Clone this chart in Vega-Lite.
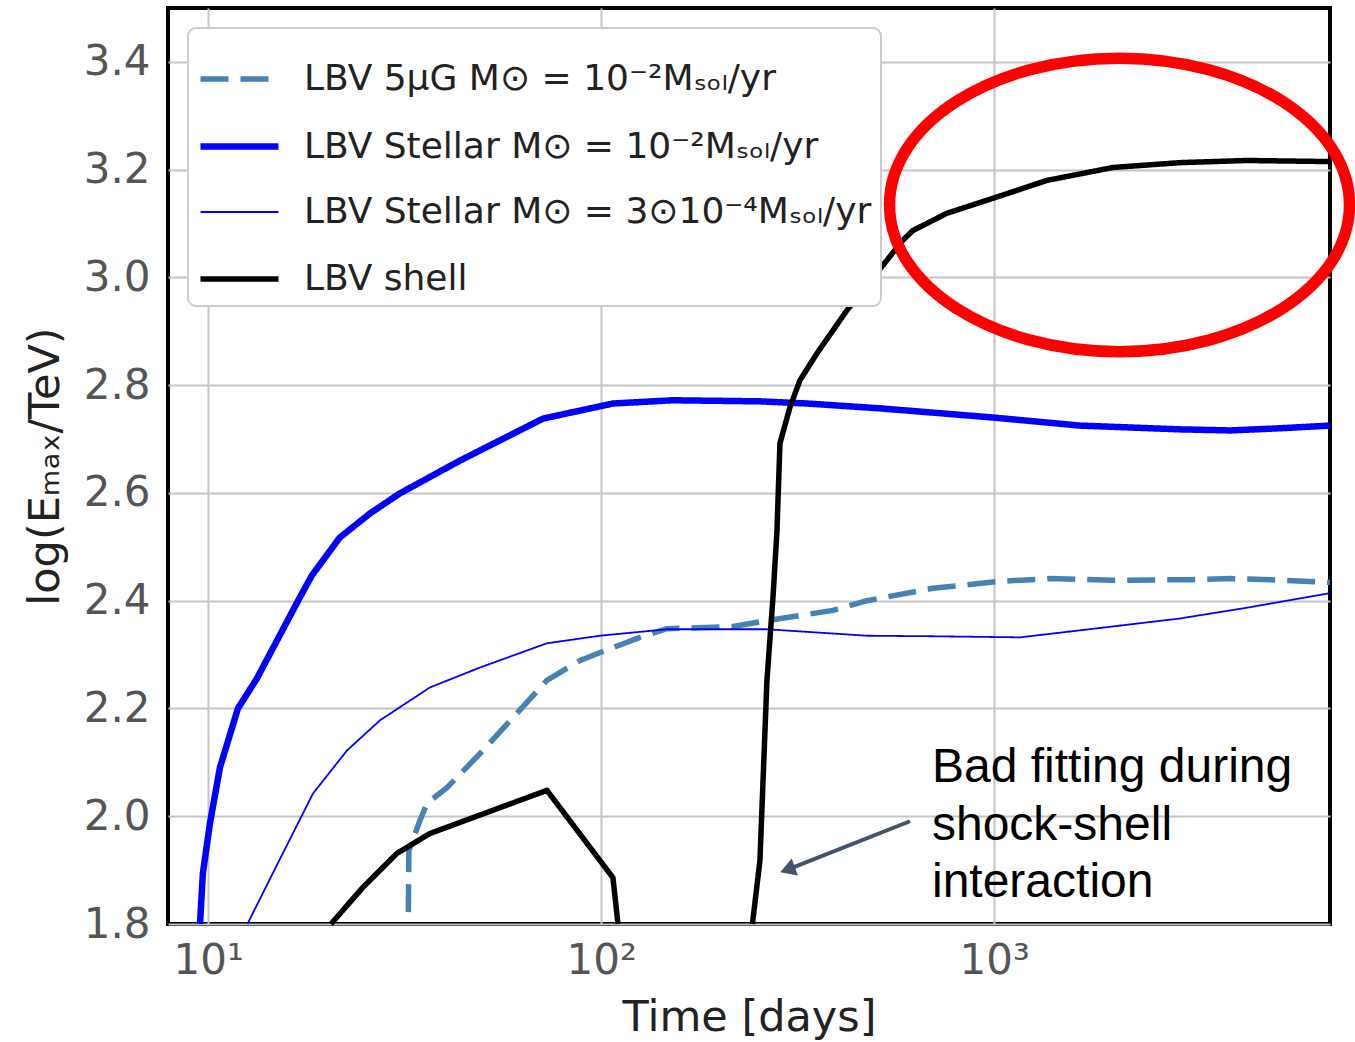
{
  "$schema": "https://vega.github.io/schema/vega-lite/v6.json",
  "width": 1162,
  "height": 916,
  "autosize": {"type": "none"},
  "padding": {"left": 168, "top": 8, "right": 25, "bottom": 118},
  "background": "#ffffff",
  "encoding": {
    "x": {
      "field": "t", "type": "quantitative",
      "scale": {"type": "log", "domain": [7.9, 7150], "nice": false},
      "axis": {
        "title": "Time [days]",
        "values": [10, 100, 1000],
        "labelExpr": "datum.value == 10 ? '10¹' : datum.value == 100 ? '10²' : '10³'",
        "labelPadding": 16,
        "titlePadding": 15
      }
    },
    "y": {
      "field": "v", "type": "quantitative",
      "scale": {"domain": [1.8, 3.5], "nice": false, "zero": false},
      "axis": {
        "title": "log(Eₘₐₓ/TeV)",
        "values": [1.8, 2.0, 2.2, 2.4, 2.6, 2.8, 3.0, 3.2, 3.4],
        "format": ".1f",
        "labelPadding": 18,
        "titlePadding": 16
      }
    }
  },
  "layer": [
    {
      "data": {"values": [
        {"t": 32.3, "v": 1.822, "series": "LBV 5μG M⊙ = 10⁻²Mₛₒₗ/yr", "seg": "a"},
        {"t": 32.4, "v": 1.936, "series": "LBV 5μG M⊙ = 10⁻²Mₛₒₗ/yr", "seg": "a"},
        {"t": 34.57, "v": 1.992, "series": "LBV 5μG M⊙ = 10⁻²Mₛₒₗ/yr", "seg": "a"},
        {"t": 36.02, "v": 2.024, "series": "LBV 5μG M⊙ = 10⁻²Mₛₒₗ/yr", "seg": "a"},
        {"t": 40.5, "v": 2.053, "series": "LBV 5μG M⊙ = 10⁻²Mₛₒₗ/yr", "seg": "a"},
        {"t": 49.1, "v": 2.116, "series": "LBV 5μG M⊙ = 10⁻²Mₛₒₗ/yr", "seg": "a"},
        {"t": 59.6, "v": 2.183, "series": "LBV 5μG M⊙ = 10⁻²Mₛₒₗ/yr", "seg": "a"},
        {"t": 72.7, "v": 2.252, "series": "LBV 5μG M⊙ = 10⁻²Mₛₒₗ/yr", "seg": "a"},
        {"t": 88.3, "v": 2.289, "series": "LBV 5μG M⊙ = 10⁻²Mₛₒₗ/yr", "seg": "a"},
        {"t": 107.1, "v": 2.313, "series": "LBV 5μG M⊙ = 10⁻²Mₛₒₗ/yr", "seg": "a"},
        {"t": 125.5, "v": 2.332, "series": "LBV 5μG M⊙ = 10⁻²Mₛₒₗ/yr", "seg": "a"},
        {"t": 146.9, "v": 2.348, "series": "LBV 5μG M⊙ = 10⁻²Mₛₒₗ/yr", "seg": "a"},
        {"t": 216.3, "v": 2.352, "series": "LBV 5μG M⊙ = 10⁻²Mₛₒₗ/yr", "seg": "a"},
        {"t": 264, "v": 2.363, "series": "LBV 5μG M⊙ = 10⁻²Mₛₒₗ/yr", "seg": "a"},
        {"t": 388.7, "v": 2.382, "series": "LBV 5μG M⊙ = 10⁻²Mₛₒₗ/yr", "seg": "a"},
        {"t": 474.5, "v": 2.4, "series": "LBV 5μG M⊙ = 10⁻²Mₛₒₗ/yr", "seg": "a"},
        {"t": 698, "v": 2.423, "series": "LBV 5μG M⊙ = 10⁻²Mₛₒₗ/yr", "seg": "a"},
        {"t": 1034, "v": 2.436, "series": "LBV 5μG M⊙ = 10⁻²Mₛₒₗ/yr", "seg": "a"},
        {"t": 1386, "v": 2.441, "series": "LBV 5μG M⊙ = 10⁻²Mₛₒₗ/yr", "seg": "a"},
        {"t": 2004, "v": 2.438, "series": "LBV 5μG M⊙ = 10⁻²Mₛₒₗ/yr", "seg": "a"},
        {"t": 3148, "v": 2.439, "series": "LBV 5μG M⊙ = 10⁻²Mₛₒₗ/yr", "seg": "a"},
        {"t": 3979, "v": 2.441, "series": "LBV 5μG M⊙ = 10⁻²Mₛₒₗ/yr", "seg": "a"},
        {"t": 5029, "v": 2.439, "series": "LBV 5μG M⊙ = 10⁻²Mₛₒₗ/yr", "seg": "a"},
        {"t": 7145, "v": 2.434, "series": "LBV 5μG M⊙ = 10⁻²Mₛₒₗ/yr", "seg": "a"},

        {"t": 9.53, "v": 1.8, "series": "LBV Stellar M⊙ = 10⁻²Mₛₒₗ/yr", "seg": "a"},
        {"t": 9.69, "v": 1.894, "series": "LBV Stellar M⊙ = 10⁻²Mₛₒₗ/yr", "seg": "a"},
        {"t": 10.1, "v": 1.9865, "series": "LBV Stellar M⊙ = 10⁻²Mₛₒₗ/yr", "seg": "a"},
        {"t": 10.71, "v": 2.0905, "series": "LBV Stellar M⊙ = 10⁻²Mₛₒₗ/yr", "seg": "a"},
        {"t": 11.9, "v": 2.2, "series": "LBV Stellar M⊙ = 10⁻²Mₛₒₗ/yr", "seg": "a"},
        {"t": 13.3, "v": 2.2557, "series": "LBV Stellar M⊙ = 10⁻²Mₛₒₗ/yr", "seg": "a"},
        {"t": 17.1, "v": 2.406, "series": "LBV Stellar M⊙ = 10⁻²Mₛₒₗ/yr", "seg": "a"},
        {"t": 18.36, "v": 2.447, "series": "LBV Stellar M⊙ = 10⁻²Mₛₒₗ/yr", "seg": "a"},
        {"t": 21.6, "v": 2.517, "series": "LBV Stellar M⊙ = 10⁻²Mₛₒₗ/yr", "seg": "a"},
        {"t": 25.8, "v": 2.562, "series": "LBV Stellar M⊙ = 10⁻²Mₛₒₗ/yr", "seg": "a"},
        {"t": 30.7, "v": 2.599, "series": "LBV Stellar M⊙ = 10⁻²Mₛₒₗ/yr", "seg": "a"},
        {"t": 43.7, "v": 2.66, "series": "LBV Stellar M⊙ = 10⁻²Mₛₒₗ/yr", "seg": "a"},
        {"t": 71.1, "v": 2.738, "series": "LBV Stellar M⊙ = 10⁻²Mₛₒₗ/yr", "seg": "a"},
        {"t": 107.1, "v": 2.766, "series": "LBV Stellar M⊙ = 10⁻²Mₛₒₗ/yr", "seg": "a"},
        {"t": 152.2, "v": 2.772, "series": "LBV Stellar M⊙ = 10⁻²Mₛₒₗ/yr", "seg": "a"},
        {"t": 253.4, "v": 2.77, "series": "LBV Stellar M⊙ = 10⁻²Mₛₒₗ/yr", "seg": "a"},
        {"t": 333.8, "v": 2.766, "series": "LBV Stellar M⊙ = 10⁻²Mₛₒₗ/yr", "seg": "a"},
        {"t": 511.7, "v": 2.757, "series": "LBV Stellar M⊙ = 10⁻²Mₛₒₗ/yr", "seg": "a"},
        {"t": 992, "v": 2.74, "series": "LBV Stellar M⊙ = 10⁻²Mₛₒₗ/yr", "seg": "a"},
        {"t": 1653, "v": 2.725, "series": "LBV Stellar M⊙ = 10⁻²Mₛₒₗ/yr", "seg": "a"},
        {"t": 2969, "v": 2.718, "series": "LBV Stellar M⊙ = 10⁻²Mₛₒₗ/yr", "seg": "a"},
        {"t": 3979, "v": 2.716, "series": "LBV Stellar M⊙ = 10⁻²Mₛₒₗ/yr", "seg": "a"},
        {"t": 5333, "v": 2.72, "series": "LBV Stellar M⊙ = 10⁻²Mₛₒₗ/yr", "seg": "a"},
        {"t": 7145, "v": 2.725, "series": "LBV Stellar M⊙ = 10⁻²Mₛₒₗ/yr", "seg": "a"},

        {"t": 12.58, "v": 1.8, "series": "LBV Stellar M⊙ = 3⊙10⁻⁴Mₛₒₗ/yr", "seg": "a"},
        {"t": 15.16, "v": 1.918, "series": "LBV Stellar M⊙ = 3⊙10⁻⁴Mₛₒₗ/yr", "seg": "a"},
        {"t": 18.47, "v": 2.042, "series": "LBV Stellar M⊙ = 3⊙10⁻⁴Mₛₒₗ/yr", "seg": "a"},
        {"t": 22.54, "v": 2.122, "series": "LBV Stellar M⊙ = 3⊙10⁻⁴Mₛₒₗ/yr", "seg": "a"},
        {"t": 27.35, "v": 2.178, "series": "LBV Stellar M⊙ = 3⊙10⁻⁴Mₛₒₗ/yr", "seg": "a"},
        {"t": 36.65, "v": 2.239, "series": "LBV Stellar M⊙ = 3⊙10⁻⁴Mₛₒₗ/yr", "seg": "a"},
        {"t": 49.13, "v": 2.276, "series": "LBV Stellar M⊙ = 3⊙10⁻⁴Mₛₒₗ/yr", "seg": "a"},
        {"t": 72.75, "v": 2.321, "series": "LBV Stellar M⊙ = 3⊙10⁻⁴Mₛₒₗ/yr", "seg": "a"},
        {"t": 99.2, "v": 2.335, "series": "LBV Stellar M⊙ = 3⊙10⁻⁴Mₛₒₗ/yr", "seg": "a"},
        {"t": 146.9, "v": 2.347, "series": "LBV Stellar M⊙ = 3⊙10⁻⁴Mₛₒₗ/yr", "seg": "a"},
        {"t": 264, "v": 2.347, "series": "LBV Stellar M⊙ = 3⊙10⁻⁴Mₛₒₗ/yr", "seg": "a"},
        {"t": 474.5, "v": 2.335, "series": "LBV Stellar M⊙ = 3⊙10⁻⁴Mₛₒₗ/yr", "seg": "a"},
        {"t": 698, "v": 2.334, "series": "LBV Stellar M⊙ = 3⊙10⁻⁴Mₛₒₗ/yr", "seg": "a"},
        {"t": 1163, "v": 2.332, "series": "LBV Stellar M⊙ = 3⊙10⁻⁴Mₛₒₗ/yr", "seg": "a"},
        {"t": 1653, "v": 2.345, "series": "LBV Stellar M⊙ = 3⊙10⁻⁴Mₛₒₗ/yr", "seg": "a"},
        {"t": 2969, "v": 2.367, "series": "LBV Stellar M⊙ = 3⊙10⁻⁴Mₛₒₗ/yr", "seg": "a"},
        {"t": 4395, "v": 2.387, "series": "LBV Stellar M⊙ = 3⊙10⁻⁴Mₛₒₗ/yr", "seg": "a"},
        {"t": 7145, "v": 2.414, "series": "LBV Stellar M⊙ = 3⊙10⁻⁴Mₛₒₗ/yr", "seg": "a"},

        {"t": 20.52, "v": 1.8, "series": "LBV shell", "seg": "a"},
        {"t": 24.75, "v": 1.868, "series": "LBV shell", "seg": "a"},
        {"t": 30.2, "v": 1.931, "series": "LBV shell", "seg": "a"},
        {"t": 36.65, "v": 1.968, "series": "LBV shell", "seg": "a"},
        {"t": 72.75, "v": 2.048, "series": "LBV shell", "seg": "a"},
        {"t": 107.1, "v": 1.886, "series": "LBV shell", "seg": "a"},
        {"t": 110.3, "v": 1.8, "series": "LBV shell", "seg": "a"},
        {"t": 242.5, "v": 1.8, "series": "LBV shell", "seg": "b"},
        {"t": 253.4, "v": 1.918, "series": "LBV shell", "seg": "b"},
        {"t": 264.0, "v": 2.252, "series": "LBV shell", "seg": "b"},
        {"t": 273.5, "v": 2.406, "series": "LBV shell", "seg": "b"},
        {"t": 280.0, "v": 2.53, "series": "LBV shell", "seg": "b"},
        {"t": 284.9, "v": 2.692, "series": "LBV shell", "seg": "b"},
        {"t": 302.1, "v": 2.759, "series": "LBV shell", "seg": "b"},
        {"t": 320.3, "v": 2.809, "series": "LBV shell", "seg": "b"},
        {"t": 353.9, "v": 2.859, "series": "LBV shell", "seg": "b"},
        {"t": 421.9, "v": 2.939, "series": "LBV shell", "seg": "b"},
        {"t": 585.4, "v": 3.069, "series": "LBV shell", "seg": "b"},
        {"t": 620.8, "v": 3.087, "series": "LBV shell", "seg": "b"},
        {"t": 757.5, "v": 3.119, "series": "LBV shell", "seg": "b"},
        {"t": 1003.5, "v": 3.148, "series": "LBV shell", "seg": "b"},
        {"t": 1361, "v": 3.18, "series": "LBV shell", "seg": "b"},
        {"t": 2003, "v": 3.204, "series": "LBV shell", "seg": "b"},
        {"t": 2967, "v": 3.213, "series": "LBV shell", "seg": "b"},
        {"t": 4394, "v": 3.217, "series": "LBV shell", "seg": "b"},
        {"t": 7145, "v": 3.215, "series": "LBV shell", "seg": "b"}
      ]},
      "mark": {"type": "line", "strokeCap": "butt", "strokeJoin": "round"},
      "encoding": {
        "detail": {"field": "seg", "type": "nominal"},
        "color": {
          "field": "series", "type": "ordinal",
          "scale": {
            "domain": ["LBV 5μG M⊙ = 10⁻²Mₛₒₗ/yr", "LBV Stellar M⊙ = 10⁻²Mₛₒₗ/yr", "LBV Stellar M⊙ = 3⊙10⁻⁴Mₛₒₗ/yr", "LBV shell"],
            "range": ["#4682b4", "#0000ff", "#0000ff", "#000000"]
          },
          "legend": {"title": null}
        },
        "strokeDash": {
          "field": "series", "type": "ordinal",
          "scale": {
            "domain": ["LBV 5μG M⊙ = 10⁻²Mₛₒₗ/yr", "LBV Stellar M⊙ = 10⁻²Mₛₒₗ/yr", "LBV Stellar M⊙ = 3⊙10⁻⁴Mₛₒₗ/yr", "LBV shell"],
            "range": [[28, 12], [1, 0], [1, 0], [1, 0]]
          },
          "legend": {"title": null}
        },
        "strokeWidth": {
          "field": "series", "type": "ordinal",
          "scale": {
            "type": "ordinal",
            "domain": ["LBV 5μG M⊙ = 10⁻²Mₛₒₗ/yr", "LBV Stellar M⊙ = 10⁻²Mₛₒₗ/yr", "LBV Stellar M⊙ = 3⊙10⁻⁴Mₛₒₗ/yr", "LBV shell"],
            "range": [5.5, 6.5, 1.8, 5.5]
          },
          "legend": {"title": null}
        }
      }
    },
    {
      "data": {"values": [{"t": 2083, "v": 3.1346}]},
      "mark": {
        "type": "point",
        "shape": "M-1,0A1,0.638,0,1,1,1,0A1,0.638,0,1,1,-1,0Z",
        "size": 211600,
        "filled": false,
        "stroke": "#ff0000",
        "strokeWidth": 11.5,
        "opacity": 1
      }
    },
    {
      "data": {"values": [{"t": 610.4, "v": 1.9907}, {"t": 297.8, "v": 1.9008}]},
      "mark": {"type": "line", "color": "#44546a", "strokeWidth": 4},
      "encoding": {}
    },
    {
      "data": {"values": [{"t": 297.8, "v": 1.9008}]},
      "mark": {
        "type": "point",
        "shape": "triangle-up",
        "size": 324,
        "angle": 250,
        "filled": true,
        "color": "#44546a",
        "opacity": 1
      }
    },
    {
      "data": {"values": [{"t": 694.3, "v": 2.0627, "label": "Bad fitting during\nshock-shell\ninteraction"}]},
      "mark": {
        "type": "text",
        "align": "left",
        "baseline": "alphabetic",
        "font": "Liberation Sans",
        "fontSize": 48,
        "lineHeight": 57.5,
        "lineBreak": "\n",
        "color": "#000000"
      },
      "encoding": {"text": {"field": "label", "type": "nominal"}}
    }
  ],
  "config": {
    "view": {"stroke": "#000000", "strokeWidth": 4},
    "axis": {
      "grid": true,
      "gridColor": "#c4c4c4",
      "gridWidth": 2,
      "domain": false,
      "ticks": false,
      "tickSize": 0,
      "labelFont": "DejaVu Sans",
      "labelFontSize": 42,
      "labelColor": "#555555",
      "titleFont": "DejaVu Sans",
      "titleFontSize": 43,
      "titleFontWeight": "normal",
      "titleColor": "#222222",
      "labelOverlap": false
    },
    "legend": {
      "orient": "top-left",
      "offset": 20,
      "padding": 9,
      "fillColor": "#ffffff",
      "strokeColor": "#cccccc",
      "strokeWidth": 2,
      "cornerRadius": 8,
      "symbolType": "stroke",
      "symbolSize": 6084,
      "labelOffset": 22,
      "labelFont": "DejaVu Sans",
      "labelFontSize": 36,
      "labelColor": "#222222",
      "labelLimit": 1000,
      "rowPadding": 7
    }
  }
}
